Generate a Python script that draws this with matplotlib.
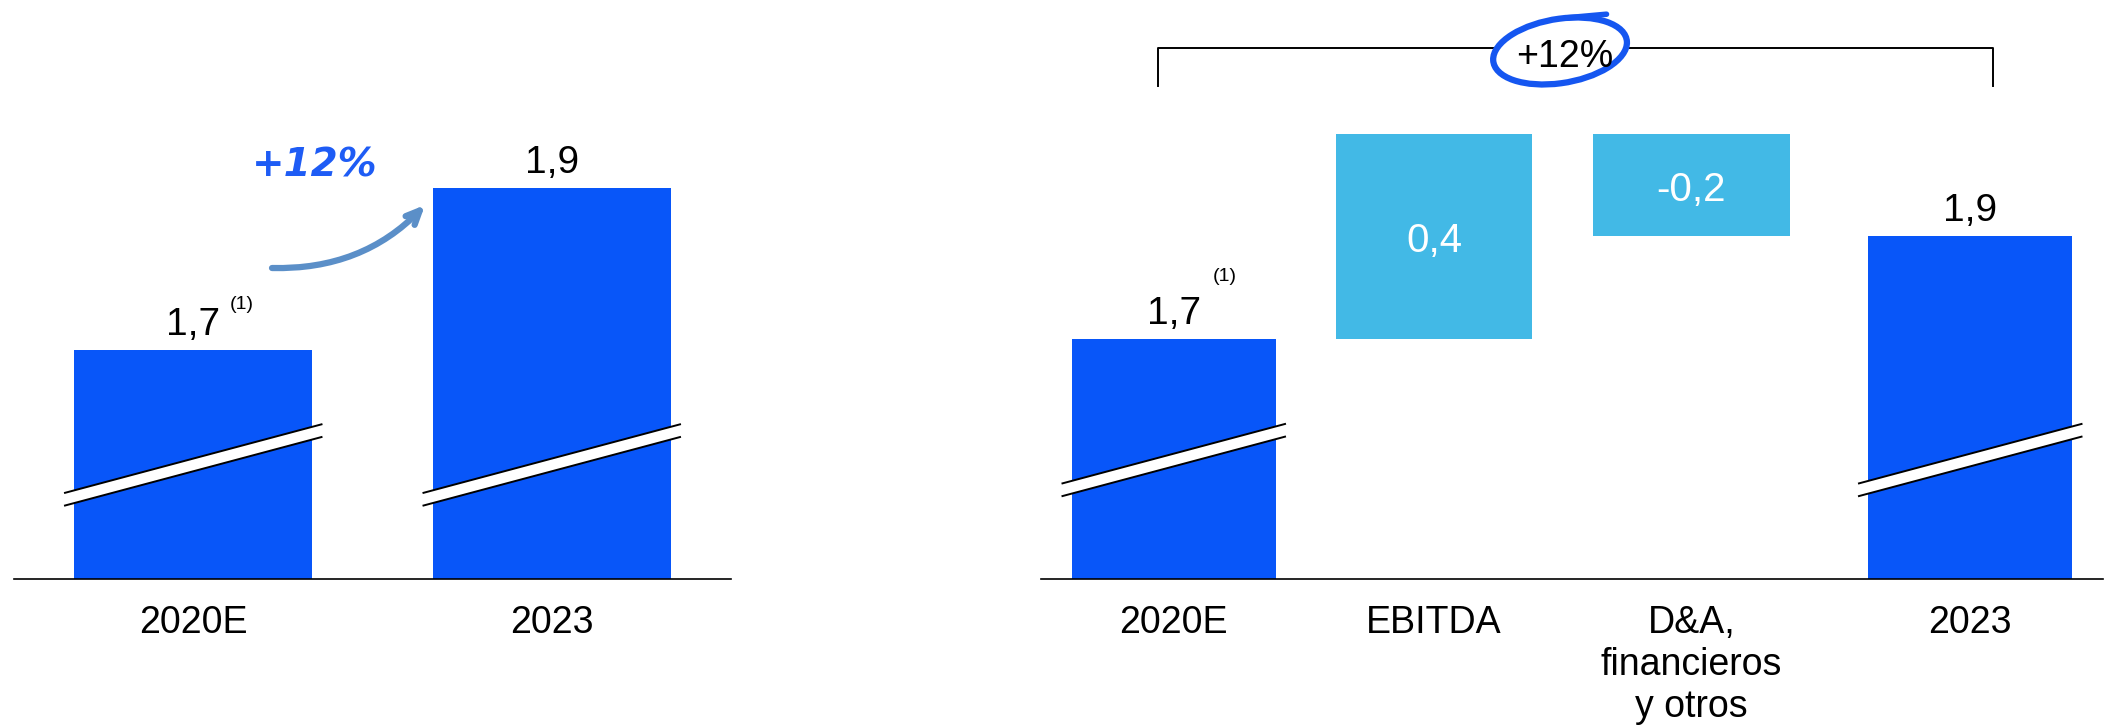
import matplotlib
matplotlib.use("Agg")
import matplotlib.pyplot as plt
from matplotlib.patches import Ellipse, Polygon

plt.rcParams["font.family"] = ["Liberation Sans", "DejaVu Sans"]

# Données
left_cats = ["2020E", "2023"]
left_vals = [1.7, 1.9]

right_cats = ["2020E", "EBITDA", "D&A,\nfinancieros\ny otros", "2023"]
right_vals = [1.7, 0.4, -0.2, 1.9]
right_kind = ["total", "delta", "delta", "total"]

growth_label = "+12%"
footnote = "(1)"

# Couleurs
DARK = "#0856F9"
LIGHT = "#42B9E6"
PEN = "#1556F0"
ARROW = "#5B8FC8"


def fmt(v):
    return f"{v:.1f}".replace(".", ",")


W, H = 2111, 727
fig = plt.figure(figsize=(W / 100, H / 100), dpi=100)
base = 579  # ligne de base (px depuis le haut)

ax1 = fig.add_axes([14 / W, (H - base) / H, (731 - 14) / W, base / H])
ax2 = fig.add_axes([1041 / W, (H - base) / H, (2103 - 1041) / W, base / H])

for ax in (ax1, ax2):
    for s in ("top", "right", "left"):
        ax.spines[s].set_visible(False)
    ax.spines["bottom"].set_linewidth(1.2)
    ax.set_yticks([])
    ax.tick_params(axis="x", length=0, pad=19, labelsize=27)


def draw_break(ax, xc, width, yfrac):
    # double trait oblique blanc (axe interrompu), calculé en pixels
    fig.canvas.draw()
    to_disp = ax.transData
    px0 = to_disp.transform((xc - width / 2, 0))[0]
    px1 = to_disp.transform((xc + width / 2, 0))[0]
    cx = (px0 + px1) / 2
    h = (px1 - px0) / 2 + 10
    cy = ax.transAxes.transform((0, yfrac))[1]
    s, g = 0.267, 12.7
    up = [(cx - h, cy + g / 2 - s * h), (cx + h, cy + g / 2 + s * h)]
    lo = [(cx - h, cy - g / 2 - s * h), (cx + h, cy - g / 2 + s * h)]
    inv = to_disp.inverted()
    up_d = inv.transform(up)
    lo_d = inv.transform(lo)
    band = Polygon([up_d[0], up_d[1], lo_d[1], lo_d[0]], closed=True,
                   facecolor="white", edgecolor="none", zorder=3, clip_on=False)
    ax.add_patch(band)
    for seg in (up_d, lo_d):
        ax.plot(seg[:, 0], seg[:, 1], color="black", lw=1.4, zorder=4,
                clip_on=False, solid_capstyle="butt")


# Graphique de gauche
xl = [0, 1]
ax1.set_xlim(-0.5, 1.5)
ax1.set_ylim(1.4164, 2.1334)
ax1.bar(xl, left_vals, width=0.665, color=DARK, zorder=2)
ax1.set_xticks(xl, left_cats)
for x, v in zip(xl, left_vals):
    ax1.annotate(fmt(v), (x, v), xytext=(0, 10.8), textcoords="offset points",
                 ha="center", va="baseline", fontsize=28)
ax1.annotate(footnote, (xl[0], left_vals[0]), xytext=(35, 29.5),
             textcoords="offset points", ha="center", va="baseline", fontsize=14)

ax1.text(0.34, 1.928, growth_label, ha="center", va="center", fontsize=28,
         fontweight="bold", fontstyle="oblique", color="#1E5CF5",
         family="DejaVu Sans")
ax1.annotate("", xy=(0.6465, 1.8795), xytext=(0.2197, 1.8015),
             arrowprops=dict(arrowstyle="->,head_length=1.0,head_width=0.45",
                             connectionstyle="arc3,rad=0.22", color=ARROW,
                             lw=4.5, shrinkA=0, shrinkB=0))

# Graphique de droite (cascade)
xr = [0, 0.98, 1.95, 3]
wr = [0.77, 0.74, 0.74, 0.77]
ax2.set_xlim(-0.5, 3.5)
ax2.set_ylim(1.232, 2.3607)

running = 0.0
for x, w, v, k in zip(xr, wr, right_vals, right_kind):
    if k == "total":
        ax2.bar(x, v, width=w, color=DARK, zorder=2)
        running = v
        ax2.annotate(fmt(v), (x, v), xytext=(0, 10.8), textcoords="offset points",
                     ha="center", va="baseline", fontsize=28)
    else:
        ax2.bar(x, v, bottom=running, width=w, color=LIGHT, zorder=2)
        mid = running + v / 2
        running += v
        ax2.annotate(fmt(v), (x, mid), xytext=(0, -11.5), textcoords="offset points",
                     ha="center", va="baseline", fontsize=29, color="white")
ax2.set_xticks(xr, right_cats)
ax2.annotate(footnote, (xr[0], right_vals[0]), xytext=(37, 42),
             textcoords="offset points", ha="center", va="baseline", fontsize=14)

# Accolade +12%
yb, yt = 2.1931, 2.2671
xa, xb = xr[0] - 0.06, xr[3] + 0.086
ax2.plot([xa, xa, xb, xb], [yb, yt, yt, yb], color="black", lw=1.4,
         zorder=3, clip_on=False)
ax2.add_patch(Ellipse((1.455, 2.2613), 0.505, 0.126, angle=4,
                      facecolor="white", edgecolor=PEN, lw=4.5, zorder=4))
ax2.plot([1.48, 1.63], [2.326, 2.333], color=PEN, lw=4, zorder=5,
         solid_capstyle="round")
ax2.text(1.474, 2.2301, growth_label, ha="center", va="baseline", fontsize=27,
         zorder=6)

# Coupures d'axe
draw_break(ax1, xl[0], 0.665, 0.197)
draw_break(ax1, xl[1], 0.665, 0.197)
draw_break(ax2, xr[0], wr[0], 0.2055)
draw_break(ax2, xr[3], wr[3], 0.2055)

fig.savefig("out.png", dpi=100)
